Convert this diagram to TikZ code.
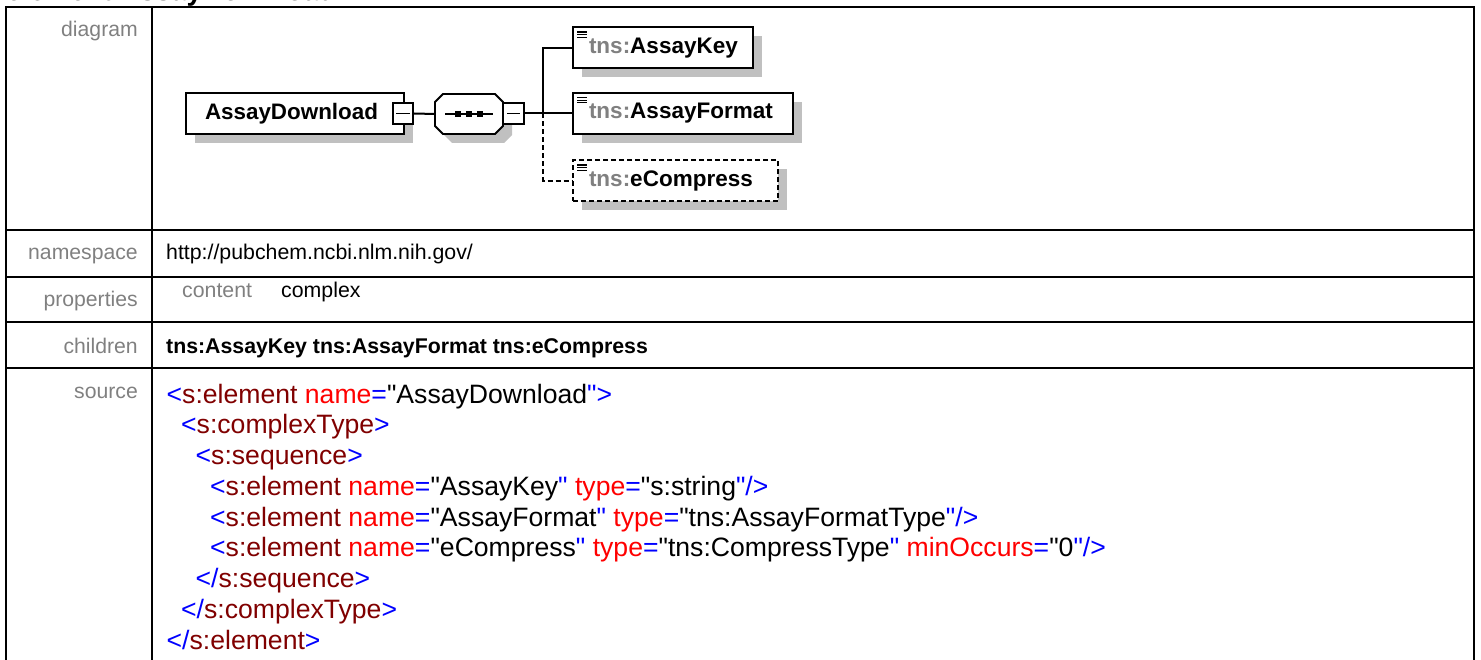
\documentclass[tikz,border=0pt]{standalone}
\usepackage{fontspec}
\setmainfont{Liberation Sans}[Ligatures=TeXReset]
\usetikzlibrary{calc,shadows}
\definecolor{lbl}{RGB}{128,128,128}
\definecolor{shd}{RGB}{192,192,192}
\definecolor{xb}{RGB}{0,0,255}
\definecolor{xe}{RGB}{128,0,0}
\definecolor{xa}{RGB}{255,0,0}
\newcommand{\xB}[1]{\textcolor{xb}{#1}}
\newcommand{\xE}[1]{\textcolor{xe}{#1}}
\newcommand{\xA}[1]{\textcolor{xa}{#1}}
\newcommand{\qq}{\char34\relax}
\newcommand{\tnsname}[1]{\mbox{\textcolor{lbl}{tns:}#1}}
\begin{document}
\begin{tikzpicture}[x=1pt,y=-1pt,
  outer/.style={line width=2pt},
  inner/.style={line width=1.5pt},
  rowlbl/.style={anchor=base east, text=lbl, font=\fontsize{21.2}{25}\selectfont, inner sep=0},
  val/.style={anchor=base west, font=\fontsize{21.3}{25}\selectfont, inner sep=0},
  bval/.style={val, font=\bfseries\fontsize{21.3}{25}\selectfont},
  src/.style={anchor=base west, font=\fontsize{26.6}{30}\selectfont, inner sep=0},
  shadowed/.style={general shadow={fill=shd, shadow xshift=9pt, shadow yshift=-9pt}},
  rootbox/.style={draw, line width=2pt, fill=white, shadowed, minimum height=41pt, inner ysep=0, inner xsep=19pt, text width=180pt, align=left, font=\bfseries\fontsize{22.4}{26}\selectfont},
  elbox/.style={draw, line width=2pt, fill=white, shadowed, minimum height=41pt, inner ysep=0, inner xsep=16pt, align=left, font=\bfseries\fontsize{22.5}{26}\selectfont,
    path picture={\foreach \k in {0,1,2} \draw[solid, line width=1.1pt] ($(path picture bounding box.north west)+(4,4.5+2.6*\k)$) -- ++(10,0);}},
  optbox/.style={elbox, dash pattern=on 5pt off 3pt},
  minusbox/.style={draw, line width=1.6pt, fill=white, minimum width=20.5pt, minimum height=21pt, inner sep=0,
    path picture={\draw[line width=1.6pt] ([xshift=3.5pt]path picture bounding box.west) -- ([xshift=-3.5pt]path picture bounding box.east);}},
  conn/.style={line width=2pt},
  optconn/.style={conn, dash pattern=on 5pt off 3pt}
]
\useasboundingbox (0,0) rectangle (1481,660);
% cut-off title
\node[anchor=base west, inner sep=0, font=\bfseries\fontsize{28}{32}\selectfont] (title) at (6,1) {element AssayDownload};
% table frame
\draw[outer] (6,660) -- (6,7) -- (1474,7) -- (1474,660);
\draw[inner] (152,7) -- (152,660);
\foreach \yy in {230,277,322,368} \draw[inner] (6,\yy) -- (1474,\yy);
% row labels
\node[rowlbl] (ldiag) at (138,37) {diagram};
\node[rowlbl] (lns) at (138,260) {namespace};
\node[rowlbl] (lprop) at (138,306.5) {properties};
\node[rowlbl] (lchild) at (138,353) {children};
\node[rowlbl] (lsrc) at (138,398) {source};
% values
\node[val] (ns) at (166,260) {http://pubchem.ncbi.nlm.nih.gov/};
\node[val, text=lbl] (pcontent) at (182,297.5) {content};
\node[val] (pcomplex) at (281,297.5) {complex};
\node[bval] (children) at (166,353) {tns:AssayKey tns:AssayFormat tns:eCompress};
% source
\node[src] (s1) at (166.5,403) {\xB{<}\xE{s:element} \xA{name}\xB{=}\qq AssayDownload\xB{\qq}\xB{>}};
\node[src] (s2) at (181,433.75) {\xB{<}\xE{s:complexType}\xB{>}};
\node[src] (s3) at (195.5,464.5) {\xB{<}\xE{s:sequence}\xB{>}};
\node[src] (s4) at (210,495.25) {\xB{<}\xE{s:element} \xA{name}\xB{=}\qq AssayKey\xB{\qq} \xA{type}\xB{=}\qq s:string\xB{\qq}\xB{/>}};
\node[src] (s5) at (210,526) {\xB{<}\xE{s:element} \xA{name}\xB{=}\qq AssayFormat\xB{\qq} \xA{type}\xB{=}\qq tns:AssayFormatType\xB{\qq}\xB{/>}};
\node[src] (s6) at (210,556.75) {\xB{<}\xE{s:element} \xA{name}\xB{=}\qq eCompress\xB{\qq} \xA{type}\xB{=}\qq tns:CompressType\xB{\qq} \xA{minOccurs}\xB{=}\qq 0\xB{\qq}\xB{/>}};
\node[src] (s7) at (195.5,587.5) {\xB{</}\xE{s:sequence}\xB{>}};
\node[src] (s8) at (181,618.25) {\xB{</}\xE{s:complexType}\xB{>}};
\node[src] (s9) at (166.5,649) {\xB{</}\xE{s:element}\xB{>}};
% diagram
\node[rootbox] (root) at (295,113.5) {AssayDownload};
\node[minusbox] (rm) at (403,113.5) {};
\node[inner sep=0, minimum width=68pt, minimum height=40pt] (seq) at (469,114) {};
\begin{scope}[shift={(seq.center)}]
  \fill[shd, shift={(9,9)}] (-26,-20) -- (26,-20) -- (34,-12) -- (34,12) -- (26,20) -- (-26,20) -- (-34,12) -- (-34,-12) -- cycle;
  \draw[line width=1.8pt, fill=white] (-26,-20) -- (26,-20) -- (34,-12) -- (34,12) -- (26,20) -- (-26,20) -- (-34,12) -- (-34,-12) -- cycle;
  \draw[line width=1.5pt] (-24,0) -- (24,0);
  \foreach \q in {-11,0,11} \fill (\q-2.7,-2.7) rectangle (\q+2.7,2.7);
\end{scope}
\node[minusbox] (sm) at (513.5,113.5) {};
\node[elbox, text width=148pt] (key) at (663,48) {\tnsname{AssayKey}};
\node[elbox, text width=188pt] (fmt) at (683,113.5) {\tnsname{AssayFormat}};
\node[optbox, text width=173pt] (cmp) at (675.5,181) {\tnsname{eCompress}};
\coordinate (j) at (543,113.5);
\draw[conn] (rm.east) -- (seq.west);
\draw[conn] (sm.east) -- (fmt.west);
\draw[conn] (j) |- (key.west);
\draw[optconn] (j) |- (cmp.west);
\end{tikzpicture}
\end{document}
